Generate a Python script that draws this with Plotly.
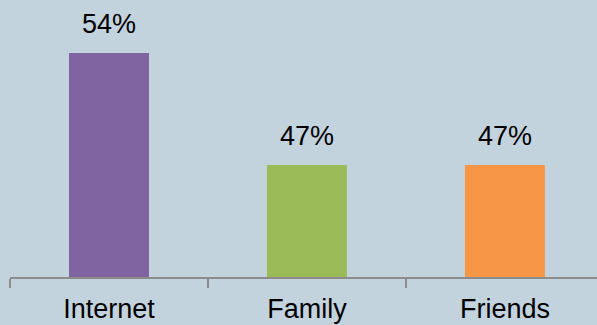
import plotly.graph_objects as go

categories = ["Internet", "Family", "Friends"]
values = [54, 47, 47]
labels = ["54%", "47%", "47%"]
colors = ["#8064a2", "#9bbb59", "#f79646"]

bg = "#c3d3de"
FONT = "Liberation Sans, Arial"

fig = go.Figure()
fig.add_trace(go.Bar(
    x=categories, y=values, base=0,
    marker=dict(color=colors, line=dict(width=0)),
    width=0.404, hoverinfo="skip",
))

for c, v, t in zip(categories, values, labels):
    fig.add_annotation(x=c, y=v, text=t, showarrow=False, yanchor="bottom",
                       yshift=12, font=dict(family=FONT, size=27, color="#000000"))

fig.update_layout(
    width=597, height=325,
    margin=dict(l=10, r=0, t=0, b=48),
    paper_bgcolor=bg, plot_bgcolor=bg,
    showlegend=False,
    font=dict(family=FONT, size=27, color="#000000"),
)
fig.update_xaxes(
    range=[-0.5, 2.465], showgrid=False, zeroline=False,
    showline=True, linecolor="#8c8c8c", linewidth=2,
    ticks="outside", tickson="boundaries", ticklen=9, tickwidth=2, tickcolor="#8c8c8c",
    tickfont=dict(size=27, color="#000000"), ticklabelstandoff=7,
)
fig.update_yaxes(range=[40, 57.3125], visible=False, showgrid=False, zeroline=False)

fig.write_html("out.html", config={"displayModeBar": False, "staticPlot": True},
               post_script="document.body.style.margin='0';document.body.style.padding='0';")
